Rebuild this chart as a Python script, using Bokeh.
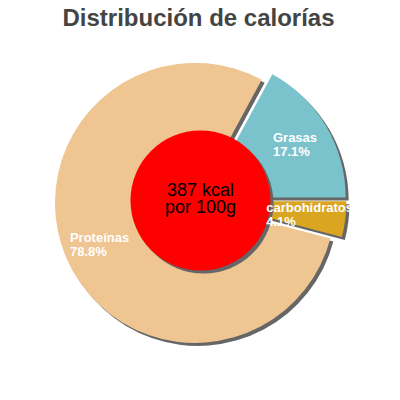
import numpy as np
from bokeh.plotting import figure
from bokeh.models import Range1d
from bokeh.embed import file_html
from bokeh.resources import INLINE
from bokeh.core.properties import value

title_text = "Distribución de calorías"
center_lines = ["387 kcal", "por 100g"]
nutrients = ["Grasas", "Proteínas", "carbohidratos"]
percents = [17.1, 78.8, 4.1]
pct_labels = ["17.1%", "78.8%", "4.1%"]
colors = ["#7bc3cc", "#efc592", "#daa520"]

CX, CY = 200, 200
R_OUT = 140
R_HOLE = 70
EXPLODE = 6
SHADOW = 3
LABEL_R = 110
FONT = value("Liberation Sans")

frac = np.array(percents) / 100.0
ends = np.cumsum(frac) * 2 * np.pi
starts = ends - frac * 2 * np.pi
mids = (starts + ends) / 2
xs = CX + EXPLODE * np.cos(mids)
ys = CY + EXPLODE * np.sin(mids)

p = figure(width=384, height=384, x_range=Range1d(0, 384), y_range=Range1d(16, 400),
           x_axis_type=None, y_axis_type=None, toolbar_location=None,
           output_backend="svg", min_border=0)
p.outline_line_color = None
p.background_fill_color = "white"
p.border_fill_color = "white"

# shadows
p.wedge(x=list(xs + SHADOW), y=list(ys - SHADOW), radius=R_OUT,
        start_angle=list(starts), end_angle=list(ends),
        fill_color="#666666", line_color=None)
# slices
p.wedge(x=list(xs), y=list(ys), radius=R_OUT,
        start_angle=list(starts), end_angle=list(ends),
        fill_color=colors, line_color=None)

# center disc
p.circle(x=[CX + SHADOW], y=[CY - SHADOW], radius=R_HOLE, fill_color="#666666", line_color=None)
p.circle(x=[CX], y=[CY], radius=R_HOLE, fill_color="#ff0000", line_color=None)

# slice labels
lx = CX + LABEL_R * np.cos(mids)
ly = CY + LABEL_R * np.sin(mids)
p.text(x=list(lx), y=list(ly), text=[f"{n}\n{q}" for n, q in zip(nutrients, pct_labels)],
       anchor="center", text_align="left", text_font=FONT, text_font_size="13px",
       text_font_style="bold", text_color="white", text_line_height=0.95)

# center text
p.text(x=[CX, CX], y=[210.3, 193.7], text=center_lines, anchor="center", text_align="center",
       text_font=FONT, text_font_size="18px", text_color="black")

# title
p.text(x=[198], y=[383.5], text=[title_text], anchor="center", text_align="center",
       text_font=FONT, text_font_size="24px", text_font_style="bold", text_color="#444444")

open("out.html", "w").write(file_html(p, INLINE))
